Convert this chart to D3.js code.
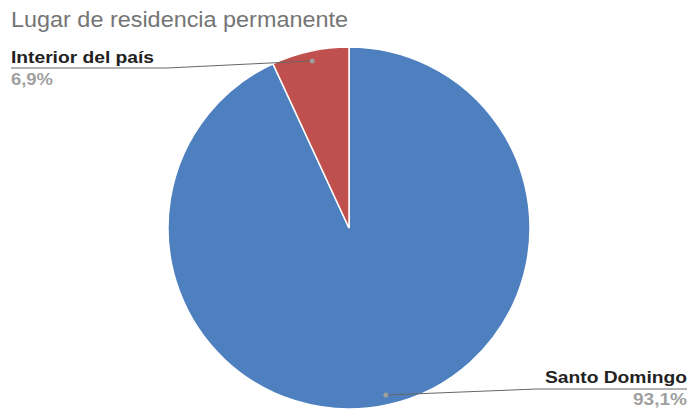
<!DOCTYPE html>
<html>
<head>
<meta charset="utf-8">
<script src="https://cdn.jsdelivr.net/npm/d3@7"></script>
<style>
  html, body { margin: 0; padding: 0; background: #fff; }
  svg { display: block; }
</style>
</head>
<body>
<svg id="chart" width="689" height="413"></svg>
<script>
const categories = ["Santo Domingo", "Interior del país"];
const values = [93.1, 6.9];
const valueLabels = ["93,1%", "6,9%"];
const colors = ["#4e80bf", "#c0504d"];

const svg = d3.select("#chart");
const cx = 349, cy = 228, R = 181;
const font = "Arial, 'Liberation Sans', sans-serif";

// stretch a text element horizontally to a given advance width
function fitWidth(sel, w) {
  sel.attr("textLength", w).attr("lengthAdjust", "spacingAndGlyphs");
  return sel;
}

fitWidth(svg.append("text")
  .attr("x", 11).attr("y", 27)
  .attr("font-family", font)
  .attr("font-size", 22)
  .attr("fill", "#757575")
  .text("Lugar de residencia permanente"), 337);

const data = categories.map((c, i) => ({ name: c, value: values[i], label: valueLabels[i], color: colors[i] }));

const pie = d3.pie().sort(null).value(d => d.value);
const arcs = pie(data);
const arc = d3.arc().innerRadius(0).outerRadius(R);

const g = svg.append("g").attr("transform", `translate(${cx},${cy})`);
g.selectAll("path.slice")
  .data(arcs)
  .join("path")
  .attr("class", "slice")
  .attr("d", arc)
  .attr("fill", d => d.data.color)
  .attr("stroke", "#fff")
  .attr("stroke-width", 1.5);

// leader dots sit inside each slice at its mid-angle
const dotR = R * 0.945;
const dotPos = d => {
  const a = (d.startAngle + d.endAngle) / 2;
  return [cx + dotR * Math.sin(a), cy - dotR * Math.cos(a)];
};

const labelLayout = [
  { anchor: "end", tx: 687, ty: 383, elbowX: 537, lineY: 389, endX: 687, nameW: 142, valW: 54 },
  { anchor: "start", tx: 11, ty: 63, elbowX: 167, lineY: 68, endX: 11, nameW: 143, valW: 42 }
];

arcs.forEach((d, i) => {
  const [px, py] = dotPos(d);
  const L = labelLayout[i];
  svg.append("path")
    .attr("d", d3.line()([[px, py], [L.elbowX, L.lineY], [L.endX, L.lineY]]))
    .attr("fill", "none")
    .attr("stroke", "#666")
    .attr("stroke-width", 1);
  svg.append("circle")
    .attr("cx", px).attr("cy", py).attr("r", 2.5)
    .attr("fill", "#9e9e9e");
  fitWidth(svg.append("text")
    .attr("x", L.tx).attr("y", L.ty)
    .attr("text-anchor", L.anchor)
    .attr("font-family", font)
    .attr("font-weight", "bold")
    .attr("font-size", 16)
    .attr("fill", "#222")
    .text(d.data.name), L.nameW);
  fitWidth(svg.append("text")
    .attr("x", L.tx).attr("y", L.ty + 22)
    .attr("text-anchor", L.anchor)
    .attr("font-family", font)
    .attr("font-weight", "bold")
    .attr("font-size", 16)
    .attr("fill", "#a0a0a0")
    .text(d.data.label), L.valW);
});
</script>
</body>
</html>
